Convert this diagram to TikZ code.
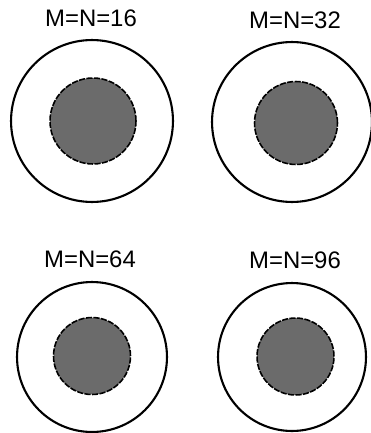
\documentclass[tikz,border=0pt]{standalone}
\usepackage{fontspec}
\setmainfont{Liberation Sans}
\usetikzlibrary{positioning}

\tikzset{
  outer/.style={circle,draw,line width=1.2pt,inner sep=0pt},
  core/.style={circle,draw,fill=black!58,line width=.9pt,
    dash pattern=on 3.5pt off .8pt,inner sep=0pt},
  lbl/.style={font=\fontsize{13.6}{16}\selectfont,inner sep=0pt}
}

\begin{document}
\begin{tikzpicture}[x=.02cm,y=-.02cm]
  \useasboundingbox (0,0) rectangle (371,433);
  % one panel per grid size
  \foreach \cx/\cy/\ro/\ix/\iy/\ri/\lx/\ly/\n in {
      92/121/81/93/121/43/91/18.5/16,
      292/122/80/296/123/41.5/295/20/32,
      92/357/75/92/356/38.5/90/259/64,
      292/357/74/295.5/356.5/38.5/295/260/96}{
    \node[outer,minimum size=\ro*.04cm] (outer\n) at (\cx,\cy) {};
    \node[core,minimum size=\ri*.04cm] (core\n) at (\ix,\iy) {};
    \node[lbl] (lab\n) at (\lx,\ly) {M=N=\n};
  }
\end{tikzpicture}
\end{document}
